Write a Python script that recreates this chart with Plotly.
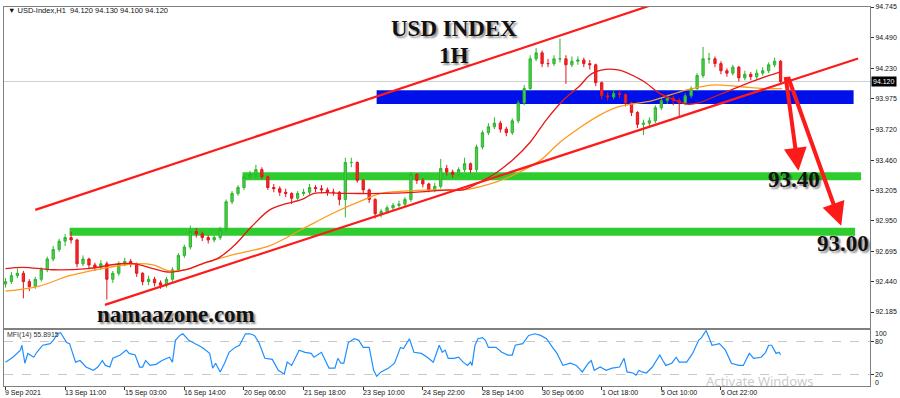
import plotly.graph_objects as go

# ---------------- DATA ----------------
# One candle per 4 hourly bars; x is the hourly bar index
BAR_STEP = 4
OPEN = [92.42, 92.44, 92.49, 92.51, 92.44, 92.40, 92.46, 92.54, 92.63, 92.71,
        92.78, 92.81, 92.79, 92.59, 92.63, 92.58, 92.56, 92.59, 92.46, 92.51,
        92.59, 92.61, 92.59, 92.51, 92.44, 92.46, 92.43, 92.41, 92.46, 92.54,
        92.66, 92.73, 92.86, 92.84, 92.81, 92.79, 92.81, 92.88, 93.11, 93.18,
        93.23, 93.32, 93.34, 93.38, 93.32, 93.23, 93.22, 93.19, 93.18, 93.14,
        93.18, 93.19, 93.23, 93.22, 93.21, 93.19, 93.19, 93.13, 93.44, 93.44,
        93.29, 93.21, 93.13, 93.01, 93.03, 93.06, 93.08, 93.09, 93.13, 93.34,
        93.29, 93.26, 93.21, 93.24, 93.39, 93.36, 93.34, 93.38, 93.43, 93.38,
        93.57, 93.69, 93.74, 93.77, 93.72, 93.69, 93.79, 93.94, 94.06, 94.31,
        94.36, 94.27, 94.27, 94.31, 94.31, 94.26, 94.29, 94.30, 94.27, 94.26,
        94.11, 94.00, 93.99, 94.02, 94.01, 93.94, 93.86, 93.76, 93.77, 93.79,
        93.90, 93.96, 93.98, 93.96, 93.94, 94.00, 94.06, 94.17, 94.31, 94.31,
        94.27, 94.21, 94.19, 94.24, 94.15, 94.18, 94.16, 94.19, 94.21, 94.26,
        94.29]
HIGH = [92.47, 92.52, 92.55, 92.53, 92.46, 92.48, 92.56, 92.65, 92.74, 92.80,
        92.84, 92.86, 92.80, 92.66, 92.64, 92.60, 92.62, 92.61, 92.53, 92.61,
        92.64, 92.63, 92.60, 92.52, 92.49, 92.48, 92.45, 92.48, 92.56, 92.68,
        92.75, 92.91, 92.89, 92.86, 92.83, 92.83, 92.90, 93.13, 93.20, 93.25,
        93.34, 93.37, 93.42, 93.40, 93.33, 93.26, 93.24, 93.22, 93.19, 93.20,
        93.22, 93.26, 93.25, 93.25, 93.23, 93.22, 93.20, 93.48, 93.48, 93.45,
        93.30, 93.22, 93.14, 93.05, 93.08, 93.10, 93.12, 93.15, 93.36, 93.35,
        93.31, 93.27, 93.27, 93.47, 93.42, 93.38, 93.40, 93.48, 93.44, 93.59,
        93.71, 93.77, 93.82, 93.79, 93.74, 93.81, 93.96, 94.09, 94.34, 94.40,
        94.38, 94.31, 94.34, 94.48, 94.34, 94.33, 94.33, 94.32, 94.30, 94.27,
        94.12, 94.03, 94.05, 94.05, 94.02, 93.95, 93.87, 93.80, 93.82, 93.92,
        93.98, 94.01, 94.00, 93.98, 94.02, 94.08, 94.19, 94.41, 94.36, 94.33,
        94.29, 94.23, 94.26, 94.25, 94.21, 94.20, 94.22, 94.24, 94.28, 94.32,
        94.30]
LOW = [92.39, 92.42, 92.47, 92.30, 92.36, 92.38, 92.44, 92.52, 92.61, 92.69,
       92.74, 92.76, 92.56, 92.57, 92.55, 92.53, 92.54, 92.29, 92.43, 92.49,
       92.57, 92.56, 92.48, 92.41, 92.41, 92.40, 92.38, 92.39, 92.44, 92.52,
       92.64, 92.71, 92.81, 92.78, 92.76, 92.77, 92.79, 92.86, 93.09, 93.16,
       93.21, 93.30, 93.31, 93.30, 93.21, 93.19, 93.16, 93.15, 93.09, 93.12,
       93.16, 93.17, 93.19, 93.18, 93.16, 93.16, 93.08, 92.98, 93.40, 93.27,
       93.18, 93.10, 92.97, 92.98, 93.01, 93.04, 93.06, 93.07, 93.11, 93.26,
       93.23, 93.19, 93.19, 93.22, 93.33, 93.31, 93.32, 93.36, 93.35, 93.36,
       93.55, 93.67, 93.72, 93.69, 93.66, 93.67, 93.77, 93.92, 94.04, 94.29,
       94.24, 94.24, 94.25, 94.28, 94.10, 94.24, 94.26, 94.24, 94.22, 94.08,
       93.97, 93.96, 93.97, 93.98, 93.91, 93.83, 93.73, 93.67, 93.74, 93.77,
       93.88, 93.93, 93.92, 93.83, 93.92, 93.98, 94.04, 94.15, 94.27, 94.24,
       94.18, 94.16, 94.17, 94.12, 94.13, 94.13, 94.14, 94.17, 94.19, 94.24,
       94.10]
CLOSE = [92.44, 92.49, 92.51, 92.44, 92.40, 92.46, 92.54, 92.63, 92.71, 92.78,
         92.81, 92.79, 92.59, 92.63, 92.58, 92.56, 92.59, 92.46, 92.51, 92.59,
         92.61, 92.59, 92.51, 92.44, 92.46, 92.43, 92.41, 92.46, 92.54, 92.66,
         92.73, 92.86, 92.84, 92.81, 92.79, 92.81, 92.88, 93.11, 93.18, 93.23,
         93.32, 93.34, 93.38, 93.32, 93.23, 93.22, 93.19, 93.18, 93.14, 93.18,
         93.19, 93.23, 93.22, 93.21, 93.19, 93.19, 93.13, 93.44, 93.44, 93.29,
         93.21, 93.13, 93.01, 93.03, 93.06, 93.08, 93.09, 93.13, 93.34, 93.29,
         93.26, 93.21, 93.24, 93.39, 93.36, 93.34, 93.38, 93.43, 93.38, 93.57,
         93.69, 93.74, 93.77, 93.72, 93.69, 93.79, 93.94, 94.06, 94.31, 94.36,
         94.27, 94.27, 94.31, 94.31, 94.26, 94.29, 94.30, 94.27, 94.26, 94.11,
         94.00, 93.99, 94.02, 94.01, 93.94, 93.86, 93.76, 93.77, 93.79, 93.90,
         93.96, 93.98, 93.96, 93.94, 94.00, 94.06, 94.17, 94.31, 94.31, 94.27,
         94.21, 94.19, 94.24, 94.15, 94.18, 94.16, 94.19, 94.21, 94.26, 94.29,
         94.12]
CANDLE_X = [BAR_STEP * k for k in range(len(CLOSE))]

# moving averages (bar index, price)
MA_RED_X = [0, 12, 32, 55, 77, 87, 99, 110, 121, 132, 143, 154, 165, 177, 187, 199, 207, 230,
            252, 274, 297, 307, 319, 330, 341, 352, 363, 374, 385, 394, 410, 427, 439, 450,
            457, 465, 477, 487, 499, 510, 520]
MA_RED_V = [92.55, 92.56, 92.54, 92.55, 92.59, 92.59, 92.55, 92.52, 92.54, 92.59, 92.64, 92.75,
            92.90, 93.04, 93.09, 93.13, 93.18, 93.18, 93.18, 93.19, 93.21, 93.21, 93.28, 93.36,
            93.47, 93.61, 93.80, 93.96, 94.08, 94.19, 94.22, 94.13, 94.02, 93.96, 93.93, 93.94,
            94.00, 94.05, 94.11, 94.16, 94.20]
MA_ORANGE_X = [0, 22, 43, 65, 87, 99, 110, 121, 132, 154, 177, 199, 219, 241, 252, 285, 307,
               330, 345, 359, 372, 385, 399, 412, 434, 457, 474, 490, 510, 521]
MA_ORANGE_V = [92.36, 92.40, 92.49, 92.55, 92.59, 92.58, 92.53, 92.54, 92.59, 92.67, 92.74,
               92.88, 93.01, 93.13, 93.18, 93.21, 93.21, 93.28, 93.36, 93.46, 93.61, 93.73,
               93.84, 93.91, 93.96, 94.05, 94.09, 94.08, 94.06, 94.06]

# MFI(14)
MFI_X = [0, 5, 10, 11, 13, 15, 19, 21, 25, 30, 32, 35, 37, 39, 41, 43, 47, 50, 54, 59, 62, 65,
         67, 70, 72, 77, 81, 83, 87, 90, 92, 94, 97, 101, 105, 110, 112, 114, 117, 119, 121,
         123, 127, 132, 137, 139, 141, 144, 147, 150, 154, 157, 161, 164, 167, 170, 174, 179,
         183, 187, 189, 192, 197, 201, 205, 207, 212, 214, 217, 221, 223, 225, 227, 230, 234,
         237, 240, 244, 247, 249, 252, 257, 261, 265, 267, 271, 274, 279, 283, 287, 291, 293,
         295, 297, 301, 304, 307, 310, 312, 313, 315, 317, 320, 322, 324, 329, 333, 337, 340,
         342, 347, 351, 355, 359, 363, 367, 370, 374, 379, 383, 387, 391, 393, 395, 399, 403,
         407, 412, 415, 417, 421, 423, 425, 427, 430, 434, 439, 441, 443, 447, 450, 452, 457,
         461, 465, 467, 470, 472, 474, 479, 483, 487, 492, 495, 499, 502, 507, 510, 512, 514,
         517, 519, 520]
MFI_V = [42, 51, 64, 73, 40, 58, 51, 60, 73, 76, 82, 94, 96, 87, 78, 76, 42, 45, 33, 27, 33, 45,
         36, 33, 49, 55, 64, 58, 55, 33, 33, 45, 36, 38, 45, 51, 42, 82, 91, 94, 87,
         82, 76, 69, 58, 31, 40, 24, 40, 60, 69, 73, 94, 94, 91, 78, 49, 47,
         27, 20, 42, 36, 64, 60, 58, 51, 60, 49, 31, 31, 49, 40, 40, 78, 85,
         82, 69, 69, 27, 16, 24, 31, 40, 69, 67, 85, 60, 58, 51, 42, 73, 60,
         64, 49, 49, 51, 42, 36, 42, 36, 73, 85, 87, 82, 69, 69, 60, 55, 55,
         73, 76, 91, 94, 91, 85, 69, 58, 36, 40, 36, 24, 40, 45, 27, 33, 27,
         31, 33, 49, 24, 22, 18, 27, 24, 22, 33, 55, 45, 36, 40, 51, 42, 42,
         58, 82, 87, 100, 87, 73, 76, 64, 40, 36, 36, 58, 49, 51, 60, 73, 73,
         58, 60, 55.89]

# horizontal zones: [start bar, end bar, low price, high price]
ZONE_BLUE = [249, 569, 93.931, 94.047]
ZONE_GREEN_UPPER = [159, 574, 93.292, 93.358]
ZONE_GREEN_LOWER = [43, 570, 92.826, 92.893]

# channel lines: (bar, price) endpoints
CHANNEL_UPPER = [(20, 93.042), (438, 94.780)]
CHANNEL_LOWER = [(66.7, 92.245), (572, 94.313)]

# arrows: (tail bar, tail price, head bar, head price)
ARROW_1 = (523.3, 94.17, 532.0, 93.37)
ARROW_2 = (524.7, 94.17, 560.7, 92.91)

LAST_PRICE = 94.120
PRICE_TICKS = [94.745, 94.490, 94.230, 93.975, 93.720, 93.460, 93.205, 92.950, 92.695, 92.440, 92.185]
DATE_POS = [0, 40, 80, 120, 160, 200, 240, 280, 320, 360, 400, 440, 480]
DATE_LABELS = ["9 Sep 2021", "13 Sep 11:00", "15 Sep 03:00", "16 Sep 14:00", "20 Sep 06:00",
               "21 Sep 18:00", "23 Sep 10:00", "24 Sep 22:00", "28 Sep 14:00", "30 Sep 06:00",
               "1 Oct 18:00", "5 Oct 10:00", "6 Oct 22:00"]
MFI_LABELS = [(100, "100"), (80, "80"), (20, "20"), (0, "0")]

# ---------------- FIGURE ----------------
RED = "#ff1a1a"
fig = go.Figure()

fig.add_trace(go.Candlestick(
    x=CANDLE_X, open=OPEN, high=HIGH, low=LOW, close=CLOSE,
    increasing=dict(line=dict(color="#2cb52c", width=1), fillcolor="#4fcc4f"),
    decreasing=dict(line=dict(color="#e8141c", width=1), fillcolor="#ee2a2a"),
    whiskerwidth=0, xaxis="x", yaxis="y", hoverinfo="skip", showlegend=False))
fig.add_trace(go.Scatter(x=MA_ORANGE_X, y=MA_ORANGE_V, mode="lines", line=dict(color="#ff9a1a", width=1.3, shape="spline"),
                         xaxis="x", yaxis="y", hoverinfo="skip"))
fig.add_trace(go.Scatter(x=MA_RED_X, y=MA_RED_V, mode="lines", line=dict(color="#e81818", width=1.3, shape="spline"),
                         xaxis="x", yaxis="y", hoverinfo="skip"))
fig.add_trace(go.Scatter(x=MFI_X, y=MFI_V, mode="lines", line=dict(color="#1e8fff", width=1.2),
                         xaxis="x2", yaxis="y2", hoverinfo="skip"))

shapes = []
for z, col in [(ZONE_BLUE, "#0010e8"), (ZONE_GREEN_UPPER, "#2fcc2f"), (ZONE_GREEN_LOWER, "#2fcc2f")]:
    shapes.append(dict(type="rect", xref="x", yref="y", x0=z[0], x1=z[1], y0=z[2], y1=z[3],
                       fillcolor=col, line=dict(width=0), layer="below"))
shapes.append(dict(type="line", xref="paper", yref="y", x0=0, x1=1, y0=LAST_PRICE, y1=LAST_PRICE,
                   line=dict(color="#d0d0d0", width=1), layer="below"))
for ln in [CHANNEL_UPPER, CHANNEL_LOWER]:
    shapes.append(dict(type="line", xref="x", yref="y", x0=ln[0][0], y0=ln[0][1], x1=ln[1][0], y1=ln[1][1],
                       line=dict(color=RED, width=2.2), layer="above"))

ann = []
ann.append(dict(xref="paper", yref="paper", x=0, y=1, xanchor="left", yanchor="top", xshift=2, yshift=3,
                text="▼ USD-Index,H1  94.120 94.130 94.100 94.120", showarrow=False,
                font=dict(size=7.5, color="#111", family="Liberation Sans, Arial")))
serif_big = dict(family="Liberation Serif, Times New Roman, serif", size=23, color="#111", weight="bold",
                 shadow="2px 2px 2px rgba(0,0,0,0.45)")
for txt, px, py in [("USD INDEX", 455, 25), ("1H", 455, 52), ("93.40", 796, 177),
                    ("93.00", 845, 242), ("namaazone.com", 176, 314)]:
    ann.append(dict(xref="paper", yref="paper", x=(px - 3) / 869, y=(386 - py) / 383, text=txt,
                    showarrow=False, xanchor="center", yanchor="middle", font=serif_big))
for a in [ARROW_1, ARROW_2]:
    ann.append(dict(x=a[2], y=a[3], ax=a[0], ay=a[1], xref="x", yref="y", axref="x", ayref="y",
                    text="", showarrow=True, arrowhead=2, arrowsize=1.15, arrowwidth=4, arrowcolor=RED))
ann.append(dict(xref="paper", yref="y", x=1, y=LAST_PRICE, xanchor="left", yanchor="middle", xshift=1,
                text="94.120", showarrow=False, bgcolor="#000", borderpad=1,
                font=dict(size=7, color="#fff", family="Liberation Sans, Arial")))
for pos, lab in zip(DATE_POS, DATE_LABELS):
    ann.append(dict(xref="x2", yref="paper", x=pos, y=0, xanchor="left", yanchor="top", yshift=-1, xshift=-2,
                    text=lab, showarrow=False, font=dict(size=7, color="#111", family="Liberation Sans, Arial")))
for val, lab in MFI_LABELS:
    shift = -3 if val == 100 else (3 if val == 0 else 0)
    ann.append(dict(xref="paper", yref="y2", x=1, y=val, xanchor="left", yanchor="middle", xshift=3, yshift=shift,
                    text=lab, showarrow=False, font=dict(size=7, color="#111", family="Liberation Sans, Arial")))
ann.append(dict(xref="paper", yref="y2 domain", x=0, y=1, xanchor="left", yanchor="top", xshift=1, yshift=1,
                text="MFI(14) 55.8915", showarrow=False,
                font=dict(size=7, color="#333", family="Liberation Sans, Arial")))
ann.append(dict(xref="paper", yref="paper", x=(705 - 3) / 869, y=(386 - 381) / 383, xanchor="left",
                yanchor="middle", text="Activate Windows", showarrow=False,
                font=dict(size=13, color="rgba(150,150,150,0.5)", family="Noto Sans, Open Sans")))

axis_line = dict(showline=True, linecolor="#808080", linewidth=1, mirror=True, zeroline=False)
fig.update_layout(
    width=900, height=398, margin=dict(l=3, r=28, t=3, b=12),
    paper_bgcolor="white", plot_bgcolor="white", showlegend=False, boxgap=0.45,
    font=dict(family="Liberation Sans, Arial, sans-serif", size=7, color="#111"),
    xaxis=dict(domain=[0, 1], range=[-1, 580], anchor="y", showticklabels=False, showgrid=False,
               ticks="", rangeslider=dict(visible=False), **axis_line),
    yaxis=dict(domain=[0.154, 1], range=[92.054, 94.745], anchor="x", side="right",
               tickvals=PRICE_TICKS, ticktext=[f"{v:.3f}" for v in PRICE_TICKS],
               ticks="outside", ticklen=3, tickcolor="#333", showgrid=False, **axis_line),
    xaxis2=dict(domain=[0, 1], range=[-1, 580], anchor="y2", tickvals=DATE_POS, showticklabels=False,
                ticks="outside", ticklen=3, tickcolor="#333", showgrid=False, **axis_line),
    yaxis2=dict(domain=[0, 0.149], range=[-1.8, 101.8], anchor="x2", side="right", tickvals=[20, 80],
                showticklabels=False, ticks="outside", ticklen=3, tickcolor="#333",
                showgrid=True, gridcolor="#c8c8c8", griddash="dash", gridwidth=1, **axis_line),
    shapes=shapes, annotations=ann,
)

fig.write_html("out.html", config={"displayModeBar": False},
               post_script="document.body.style.margin='0';document.body.style.overflow='hidden';")
